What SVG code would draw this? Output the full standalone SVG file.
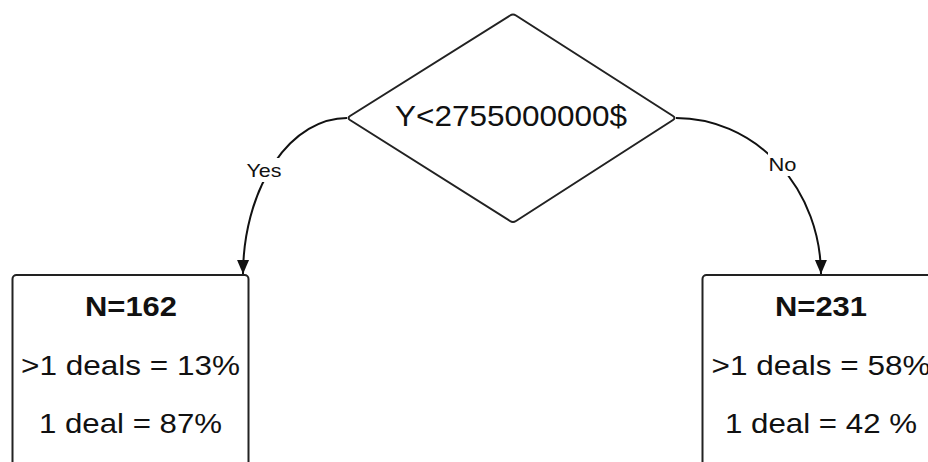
<svg xmlns="http://www.w3.org/2000/svg" width="928" height="462" viewBox="0 0 928 462">
  <defs>
    <style>
      .shape { fill: #ffffff; stroke: #222222; stroke-width: 2; }
      .edge { fill: none; stroke: #111111; stroke-width: 2; }
      text { font-family: "Liberation Sans", Arial, sans-serif; fill: #111111; text-anchor: middle; }
      .big { font-size: 30px; }
      .body { font-size: 27.5px; }
      .bold { font-weight: bold; }
      .lbl { font-size: 18.5px; }
      .lblbg { fill: #ffffff; stroke: none; }
    </style>
    <marker id="arrow" markerUnits="userSpaceOnUse" markerWidth="14" markerHeight="16" viewBox="0 0 14 16" refX="14" refY="7" orient="auto">
      <path d="M0,1 L14,7 L0,13 Z" fill="#111111"/>
    </marker>
  </defs>
  <rect width="928" height="462" fill="#ffffff"/>

  <g id="connectors">
    <path class="edge" d="M347,118 A104,157 0 0 0 243,274" marker-end="url(#arrow)"/>
    <path class="edge" d="M676,118 A145,157 0 0 1 821,274" marker-end="url(#arrow)"/>
    <rect class="lblbg" x="245" y="158" width="38" height="24"/>
    <text class="lbl" x="264" y="177" textLength="35" lengthAdjust="spacingAndGlyphs">Yes</text>
    <rect class="lblbg" x="768" y="150" width="30" height="26"/>
    <text class="lbl" x="782.5" y="171" textLength="28" lengthAdjust="spacingAndGlyphs">No</text>
  </g>

  <g id="decision">
    <path class="shape" d="M510,15.5 Q513,13.5 516,15.5 L673,116 Q676,118 673,120 L516,221 Q513,223 510,221 L350,120 Q347,118 350,116 Z"/>
    <text class="big" x="511" y="125.5" textLength="232" lengthAdjust="spacingAndGlyphs">Y&lt;2755000000$</text>
  </g>

  <g id="leaf-yes">
    <rect class="shape" x="12.5" y="275" width="236" height="200" rx="4"/>
    <text class="body bold" x="131" y="315.5" textLength="92" lengthAdjust="spacingAndGlyphs">N=162</text>
    <text class="body" x="130.5" y="375" textLength="219" lengthAdjust="spacingAndGlyphs">&gt;1 deals = 13%</text>
    <text class="body" x="130.5" y="433" textLength="183" lengthAdjust="spacingAndGlyphs">1 deal = 87%</text>
  </g>

  <g id="leaf-no">
    <rect class="shape" x="702.5" y="275" width="236" height="200" rx="4"/>
    <text class="body bold" x="821" y="315.5" textLength="92" lengthAdjust="spacingAndGlyphs">N=231</text>
    <text class="body" x="821" y="375" textLength="219" lengthAdjust="spacingAndGlyphs">&gt;1 deals = 58%</text>
    <text class="body" x="821" y="433" textLength="192" lengthAdjust="spacingAndGlyphs">1 deal = 42 %</text>
  </g>
</svg>
